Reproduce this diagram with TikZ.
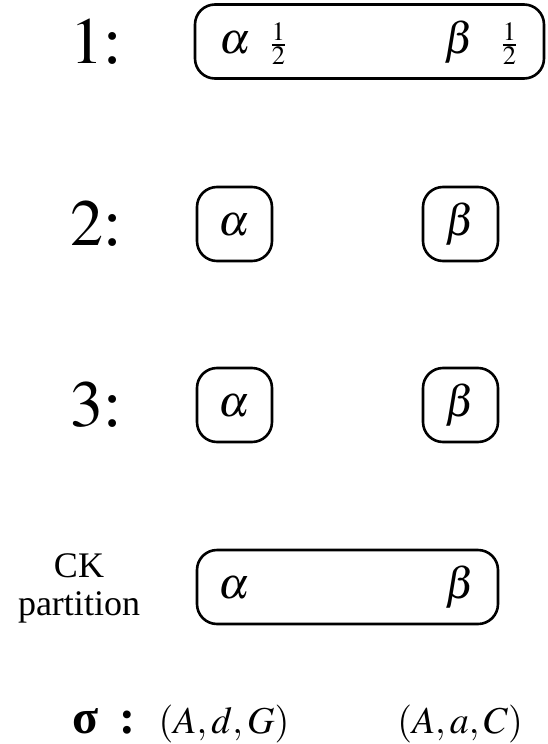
\documentclass[tikz,border=0pt]{standalone}
\usepackage{mathptmx}
\usepackage[no-math]{fontspec}
\setmainfont{Liberation Serif}
\usetikzlibrary{positioning}

\tikzset{
  rowlbl/.style={font=\fontsize{33}{36}\selectfont, anchor=base, inner sep=0pt},
  grp/.style={draw, line width=1.3pt, rounded corners=10pt,
    minimum height=37pt, inner sep=0pt, font=\fontsize{22}{26}\selectfont},
  greek/.style={font=\fontsize{22}{26}\selectfont, anchor=base, inner sep=0pt},
  half/.style={font=\fontsize{22}{26}\selectfont, inner sep=0pt},
  tup/.style={font=\fontsize{19}{22}\selectfont, anchor=base, inner sep=0pt}
}

\begin{document}
\begin{tikzpicture}[x=0.5pt, y=-0.5pt]
\useasboundingbox (0,0) rectangle (547,744);

%% ── Row 1 ────────────────────────────────────────────────────────
\node[rowlbl] (l1) at (96,63) {$1$:};
\node[grp, minimum width=174.5pt] (b1) at (369.5,41.5) {};
\node[greek] (a1) at (235,53) {$\alpha$};
\node[half, base right=9pt of a1] (h1) {$\scriptstyle\frac{1}{2}$};
\node[greek] (c1) at (459,53) {$\beta$};
\node[half, base right=13pt of c1] (k1) {$\scriptstyle\frac{1}{2}$};

%% ── Row 2 ────────────────────────────────────────────────────────
\node[rowlbl] (l2) at (96,245) {$2$:};
\node[grp, minimum width=37.5pt] (a2) at (234.5,224) {$\vphantom{\beta}\alpha$};
\node[grp, minimum width=37.5pt] (c2) at (460.5,224) {$\vphantom{\alpha}\beta$};

%% ── Row 3 ────────────────────────────────────────────────────────
\node[rowlbl] (l3) at (96,426) {$3$:};
\node[grp, minimum width=37.5pt] (a3) at (234.5,405) {$\vphantom{\beta}\alpha$};
\node[grp, minimum width=37.5pt] (c3) at (460.5,405) {$\vphantom{\alpha}\beta$};

%% ── CK partition ─────────────────────────────────────────────────
\node[align=center, inner sep=0pt, font=\fontsize{18}{19}\selectfont] (ck) at (79,588) {CK\\partition};
\node[grp, minimum width=150.5pt] (bck) at (347.5,587) {};
\node[greek] (ack) at (234,598) {$\alpha$};
\node[greek] (cck) at (460,598) {$\beta$};

%% ── sigma ────────────────────────────────────────────────────────
\node[anchor=base, inner sep=0pt, font=\fontsize{24}{26}\selectfont\bfseries] (sg) at (86,733) {σ};
\node[anchor=base, inner sep=0pt, font=\fontsize{24}{26}\selectfont\bfseries] (cl) at (127,733) {:};
\node[tup] (t1) at (224,733) {$(A,d,G)$};
\node[tup] (t2) at (460,733) {$(A,a,C)$};

\end{tikzpicture}
\end{document}
